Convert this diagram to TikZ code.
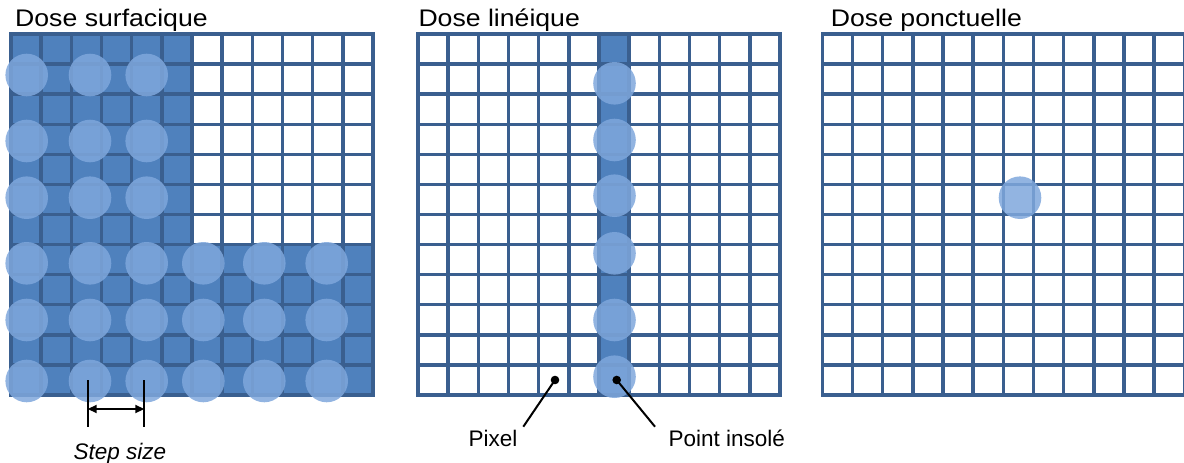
\documentclass[tikz,border=0pt]{standalone}
\usepackage{fontspec}
\setmainfont{Liberation Sans}
\usepackage{graphicx}
\usetikzlibrary{arrows.meta}
\definecolor{gridblue}{HTML}{3A5F8F}
\definecolor{fillblue}{HTML}{4F81BD}
\definecolor{spotblue}{HTML}{7FA7DC}
\tikzset{
  gridline/.style={draw=gridblue, line width=3.4pt, line cap=rect},
  cell/.style={fill=fillblue},
  spot/.style={fill=spotblue, fill opacity=0.85},
  ttl/.style={anchor=base west, inner sep=0pt, font=\fontsize{24}{28}\selectfont},
  lbl/.style={anchor=base west, inner sep=0pt, font=\fontsize{22.5}{26}\selectfont},
  pointer/.style={draw=black, line width=2pt},
  dotmark/.style={circle, fill=black, inner sep=0pt, minimum size=8.6pt},
  dimline/.style={draw=black, line width=1.8pt},
}
\begin{document}
\begin{tikzpicture}[x=1pt,y=-1pt]
\useasboundingbox (0,0) rectangle (1184,463);

% blue fills
\fill[cell] (11,34) rectangle (192,395);
\fill[cell] (11,244.6) rectangle (373,395);
\fill[cell] (599,34) rectangle (629.2,395);

% grids
\foreach \gx in {11,418,822.3}{
  \foreach \i in {0,...,12}{
    \draw[gridline] (\gx+\i*30.17,34) -- (\gx+\i*30.17,395);
    \draw[gridline] (\gx,34+\i*30.08) -- (\gx+362,34+\i*30.08);
  }
}

% spots, grid 1
\foreach \cy in {75,141,197.7}{
  \foreach \cx in {26.7,90,146.7}{
    \fill[spot] (\cx,\cy) circle (21.3);
  }
}
\foreach \cy in {263.3,320,381}{
  \foreach \cx in {26.7,90,146.7,203.3,264.3,326.7}{
    \fill[spot] (\cx,\cy) circle (21.3);
  }
}
% spots, grid 2
\foreach \cy in {83.3,140,195.7,253.3,320,376.7}{
  \fill[spot] (614.5,\cy) circle (21.3);
}
% spot, grid 3
\fill[spot] (1020,197.7) circle (21.3);

% titles
\node[ttl] (t1) at (15,26.7) {\scalebox{1.11}[1]{Dose surfacique}};
\node[ttl] (t2) at (418.3,26.7) {\scalebox{1.11}[1]{Dose linéique}};
\node[ttl] (t3) at (830.7,26.7) {\scalebox{1.11}[1]{Dose ponctuelle}};

% step size
\coordinate (sa1) at (87.7,380);
\coordinate (sa2) at (87.7,426.7);
\coordinate (sb1) at (144.3,380);
\coordinate (sb2) at (144.3,426.7);
\coordinate (aa) at (87.7,409);
\coordinate (ab) at (144.3,409);
\draw[dimline] (sa1) -- (sa2);
\draw[dimline] (sb1) -- (sb2);
\draw[dimline, {Triangle[length=9pt,width=8pt]}-{Triangle[length=9pt,width=8pt]}] (aa) -- (ab);
\node[lbl, font=\fontsize{22.5}{26}\selectfont\itshape] (step) at (73.3,459) {Step size};

% pointers
\node[dotmark] (pixdot) at (555,380) {};
\node[dotmark] (ptdot) at (616.7,380) {};
\coordinate (pixend) at (523.3,426.7);
\coordinate (ptend) at (655,426.7);
\draw[pointer] (pixdot.center) -- (pixend);
\draw[pointer] (ptdot.center) -- (ptend);
\node[lbl] (pix) at (468.3,446) {Pixel};
\node[lbl] (pt) at (668.3,446) {Point insolé};
\end{tikzpicture}
\end{document}
